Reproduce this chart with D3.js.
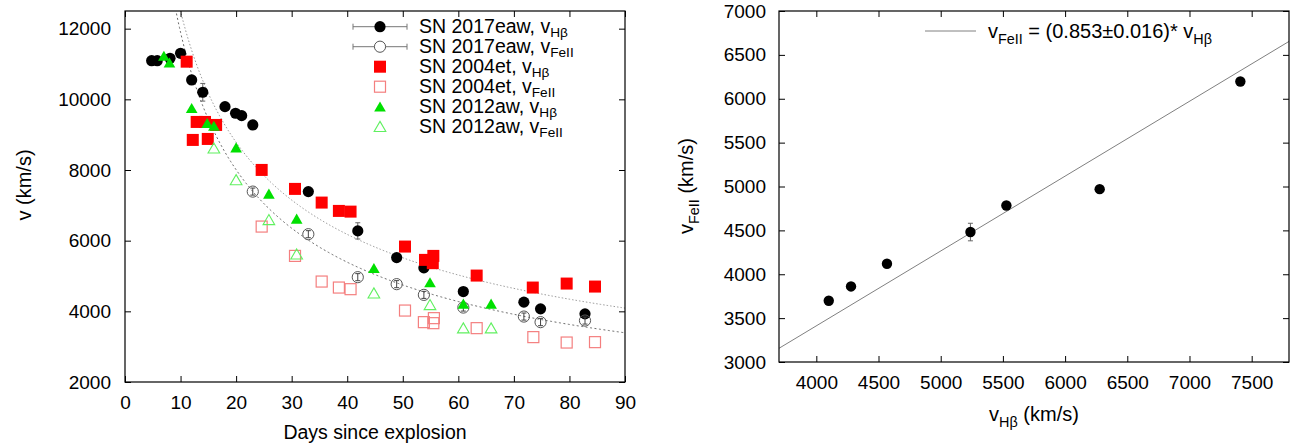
<!DOCTYPE html>
<html><head><meta charset="utf-8">
<script src="https://cdn.jsdelivr.net/npm/d3@7"></script>
<style>
body{margin:0;background:#fff;}
svg text{font-family:"Liberation Sans",Arial,Helvetica,sans-serif;fill:#000;}
</style></head>
<body><svg id="c" width="1294" height="447"></svg>
<script>
// ---------------- DATA ----------------
// Left panel: velocity vs days since explosion
const eawHbDays = [4.8, 5.8, 8.1, 10.0, 12.0, 14.0, 18.0, 19.9, 21.0, 23.0, 33.0, 41.9, 48.9, 53.8, 60.9, 71.8, 74.8, 82.8];
const eawHbVel  = [11094, 11094, 11162, 11303, 10548, 10200, 9793, 9606, 9538, 9275, 7389, 6277, 5521, 5230, 4560, 4260, 4070, 3929];
const eawHbErr  = [100, 100, 100, 100, 100, 250, 100, 100, 100, 100, 100, 230, 100, 100, 100, 100, 100, 100];

const eawFeDays = [23.0, 33.0, 41.9, 48.9, 53.8, 60.9, 71.8, 74.8, 82.8];
const eawFeVel  = [7389, 6183, 4967, 4769, 4466, 4107, 3852, 3694, 3739];
const eawFeErr  = [100, 100, 100, 100, 100, 100, 100, 100, 100];

const etHbDays = [11.1, 12.2, 12.9, 14.4, 14.9, 16.4, 24.6, 30.6, 35.4, 38.5, 40.6, 50.4, 54.0, 55.5, 55.4, 63.3, 73.4, 79.5, 84.6];
const etHbVel  = [11066, 8851, 9360, 9360, 8879, 9275, 8002, 7465, 7078, 6842, 6822, 5833, 5456, 5569, 5363, 5012, 4673, 4786, 4701];

const etFeDays = [24.6, 30.6, 35.4, 38.5, 40.6, 50.4, 53.8, 55.5, 55.6, 63.3, 73.5, 79.5, 84.6];
const etFeVel  = [6399, 5569, 4843, 4673, 4627, 4022, 3694, 3665, 3807, 3524, 3270, 3117, 3128];

const awHbDays = [7.0, 8.0, 12.0, 14.8, 16.0, 20.0, 25.9, 30.9, 44.8, 54.9, 60.9, 65.9];
const awHbVel  = [11227, 11037, 9747, 9323, 9247, 8633, 7323, 6616, 5221, 4815, 4211, 4211];

const awFeDays = [16.0, 20.0, 25.9, 30.9, 44.8, 54.9, 60.9, 65.9];
const awFeVel  = [8615, 7719, 6588, 5616, 4514, 4183, 3524, 3524];

// power-law fits v = A * t^b
const fitHb = {A: 40240, b: -0.508};
const fitFe = {A: 44300, b: -0.571};

const xTicksL = [0, 10, 20, 30, 40, 50, 60, 70, 80, 90];
const yTicksL = [2000, 4000, 6000, 8000, 10000, 12000];

// Right panel: v_FeII vs v_Hbeta
const rHb    = [4100, 4279, 4568, 5239, 5528, 6278, 7409];
const rFe    = [3698, 3861, 4120, 4481, 4784, 4970, 6196];
const rFeErr = [40, 40, 40, 100, 40, 40, 40];
const slope  = 0.853;
const xTicksR = [4000, 4500, 5000, 5500, 6000, 6500, 7000, 7500];
const yTicksR = [3000, 3500, 4000, 4500, 5000, 5500, 6000, 6500, 7000];

const legendLabels = [
  ["SN 2017eaw, v", "Hβ"], ["SN 2017eaw, v", "FeII"],
  ["SN 2004et, v", "Hβ"], ["SN 2004et, v", "FeII"],
  ["SN 2012aw, v", "Hβ"], ["SN 2012aw, v", "FeII"]
];

// ---------------- DRAW ----------------
const svg = d3.select("#c");
const C = {red:"#ff0000", pink:"#f47f7f", green:"#00e000", lgreen:"#60f060", gray:"#555"};

function subText(g, x, y, parts, size, anchor, rotate, subScale, subShift) {
  const ss = subScale || 0.72, sh = subShift || 0.3;
  const t = g.append("text").attr("font-size", size).attr("text-anchor", anchor || "start");
  if (rotate) t.attr("transform", `translate(${x},${y}) rotate(${rotate})`);
  else t.attr("x", x).attr("y", y);
  parts.forEach(p => {
    const ts = t.append("tspan").text(p[0]);
    if (p[1] === "sub") ts.attr("font-size", size * ss).attr("dy", size * sh);
    else if (p[1] === "back") ts.attr("dy", -size * sh);
  });
  return t;
}

function frameAxes(xs, ys, xt, yt, pad) {
  const [x0, x1] = xs.range(), [y0, y1] = ys.range();
  const g = svg.append("g");
  g.append("g").attr("transform", `translate(0,${y0})`)
    .call(d3.axisBottom(xs).tickValues(xt).tickSize(-6).tickPadding(pad.x).tickFormat(d3.format("d")));
  g.append("g").attr("transform", `translate(0,${y1})`)
    .call(d3.axisTop(xs).tickValues(xt).tickSize(-6).tickFormat(""));
  g.append("g").attr("transform", `translate(${x0},0)`)
    .call(d3.axisLeft(ys).tickValues(yt).tickSize(-6).tickPadding(pad.y).tickFormat(d3.format("d")));
  g.append("g").attr("transform", `translate(${x1},0)`)
    .call(d3.axisRight(ys).tickValues(yt).tickSize(-6).tickFormat(""));
  g.selectAll(".domain").remove();
  g.selectAll(".tick line").attr("stroke", "#000").attr("stroke-width", 1);
  g.selectAll(".tick text").attr("font-size", 19).attr("font-family", '"Liberation Sans",Arial,sans-serif').attr("fill", "#000");
  g.append("rect").attr("x", x0).attr("y", y1).attr("width", x1 - x0).attr("height", y0 - y1)
    .attr("fill", "none").attr("stroke", "#000").attr("stroke-width", 1.2);
}

// ---------- Left panel ----------
const xL = d3.scaleLinear([0, 90], [125, 625]);
const yL = d3.scaleLinear([2000, 12500], [382, 11]);

svg.append("clipPath").attr("id", "clipL").append("rect")
  .attr("x", 125).attr("y", 11).attr("width", 500).attr("height", 371);

const gL = svg.append("g").attr("clip-path", "url(#clipL)");
const tGrid = d3.range(2, 90.01, 0.2);
const line = d3.line().x(d => xL(d[0])).y(d => yL(d[1]));
gL.append("path").datum(tGrid.map(t => [t, fitHb.A * Math.pow(t, fitHb.b)]))
  .attr("d", line).attr("fill", "none").attr("stroke", "#9a9a9a").attr("stroke-width", 1).attr("stroke-dasharray", "1.5,2");
gL.append("path").datum(tGrid.map(t => [t, fitFe.A * Math.pow(t, fitFe.b)]))
  .attr("d", line).attr("fill", "none").attr("stroke", "#6a6a6a").attr("stroke-width", 1).attr("stroke-dasharray", "2,2.5");

function errBars(g, xs, ys, xv, yv, ev, col) {
  xv.forEach((x, i) => {
    const cx = xs(x), ya = ys(yv[i] + ev[i]), yb = ys(yv[i] - ev[i]);
    g.append("path").attr("d", `M${cx},${ya}V${yb}M${cx-2.5},${ya}H${cx+2.5}M${cx-2.5},${yb}H${cx+2.5}`)
      .attr("stroke", col).attr("stroke-width", 1).attr("fill", "none");
  });
}
function tri(r) { return `M0,${-r}L${r*1.1},${r*0.9}L${-r*1.1},${r*0.9}Z`; }

// SN 2017eaw Hb
errBars(gL, xL, yL, eawHbDays, eawHbVel, eawHbErr, "#666");
gL.selectAll(null).data(eawHbDays).enter().append("circle")
  .attr("cx", d => xL(d)).attr("cy", (d, i) => yL(eawHbVel[i])).attr("r", 5.6).attr("fill", "#000");
// SN 2017eaw FeII
gL.selectAll(null).data(eawFeDays).enter().append("circle")
  .attr("cx", d => xL(d)).attr("cy", (d, i) => yL(eawFeVel[i])).attr("r", 5.6)
  .attr("fill", "none").attr("stroke", C.gray).attr("stroke-width", 1);
errBars(gL, xL, yL, eawFeDays, eawFeVel, eawFeErr, "#444");
// SN 2004et Hb
gL.selectAll(null).data(etHbDays).enter().append("rect")
  .attr("x", d => xL(d) - 6).attr("y", (d, i) => yL(etHbVel[i]) - 6).attr("width", 12).attr("height", 12).attr("fill", C.red);
// SN 2004et FeII
gL.selectAll(null).data(etFeDays).enter().append("rect")
  .attr("x", d => xL(d) - 5.5).attr("y", (d, i) => yL(etFeVel[i]) - 5.5).attr("width", 11).attr("height", 11)
  .attr("fill", "none").attr("stroke", C.pink).attr("stroke-width", 1.2);
// SN 2012aw Hb
gL.selectAll(null).data(awHbDays).enter().append("path")
  .attr("transform", (d, i) => `translate(${xL(d)},${yL(awHbVel[i])})`).attr("d", tri(5.3)).attr("fill", C.green);
// SN 2012aw FeII
gL.selectAll(null).data(awFeDays).enter().append("path")
  .attr("transform", (d, i) => `translate(${xL(d)},${yL(awFeVel[i])})`).attr("d", tri(5.3))
  .attr("fill", "none").attr("stroke", C.lgreen).attr("stroke-width", 1.1);

frameAxes(xL, yL, xTicksL, yTicksL, {x: 14, y: 14});

// axis titles left
svg.append("text").attr("x", 375).attr("y", 439).attr("text-anchor", "middle").attr("font-size", 19.5).text("Days since explosion");
svg.append("text").attr("transform", "translate(31,185) rotate(-90)").attr("text-anchor", "middle").attr("font-size", 20).text("v (km/s)");

// legend left
const lg = svg.append("g");
const rowY = i => 26.7 + i * 20;
const mx = 380;
[0, 1].forEach(i => {
  const y = rowY(i);
  lg.append("path").attr("d", `M353,${y}H407M353,${y-3}V${y+3}M407,${y-3}V${y+3}`).attr("stroke", "#777").attr("fill", "none");
});
lg.append("circle").attr("cx", mx).attr("cy", rowY(0)).attr("r", 5.6).attr("fill", "#000");
lg.append("circle").attr("cx", mx).attr("cy", rowY(1)).attr("r", 5.6).attr("fill", "#fff").attr("stroke", C.gray);
lg.append("rect").attr("x", mx - 6).attr("y", rowY(2) - 6).attr("width", 12).attr("height", 12).attr("fill", C.red);
lg.append("rect").attr("x", mx - 5.5).attr("y", rowY(3) - 5.5).attr("width", 11).attr("height", 11).attr("fill", "none").attr("stroke", C.pink).attr("stroke-width", 1.2);
lg.append("path").attr("transform", `translate(${mx},${rowY(4)})`).attr("d", tri(5.3)).attr("fill", C.green);
lg.append("path").attr("transform", `translate(${mx},${rowY(5)})`).attr("d", tri(5.3)).attr("fill", "none").attr("stroke", C.lgreen).attr("stroke-width", 1.1);
legendLabels.forEach((l, i) => {
  subText(lg, 419, rowY(i) + 6.5, [[l[0]], [l[1], "sub"]], 19.5, "start", 0, 0.7, 0.22);
});

// ---------- Right panel ----------
const xR = d3.scaleLinear([3700, 7800], [779, 1289]);
const yR = d3.scaleLinear([3000, 7000], [362, 11]);
svg.append("clipPath").attr("id", "clipR").append("rect")
  .attr("x", 779).attr("y", 11).attr("width", 510).attr("height", 351);
const gR = svg.append("g").attr("clip-path", "url(#clipR)");
const xd = xR.domain();
gR.append("path").datum([[xd[0], slope * xd[0]], [xd[1], slope * xd[1]]])
  .attr("d", d3.line().x(d => xR(d[0])).y(d => yR(d[1])))
  .attr("stroke", "#808080").attr("stroke-width", 1).attr("fill", "none");
errBars(gR, xR, yR, rHb, rFe, rFeErr, "#666");
gR.selectAll(null).data(rHb).enter().append("circle")
  .attr("cx", d => xR(d)).attr("cy", (d, i) => yR(rFe[i])).attr("r", 5.2).attr("fill", "#000");

frameAxes(xR, yR, xTicksR, yTicksR, {x: 14, y: 13});

// right legend
svg.append("path").attr("d", "M925,31H976").attr("stroke", "#808080").attr("stroke-width", 1);
subText(svg, 988, 37.5, [["v"], ["FeII", "sub"], [" = (0.853±0.016)* v", "back"], ["Hβ", "sub"]], 20);

// right axis titles
subText(svg, 1034, 421, [["v"], ["Hβ", "sub"], [" (km/s)", "back"]], 20, "middle");
subText(svg, 693, 186, [["v"], ["FeII", "sub"], [" (km/s)", "back"]], 20, "middle", -90);
</script></body></html>
